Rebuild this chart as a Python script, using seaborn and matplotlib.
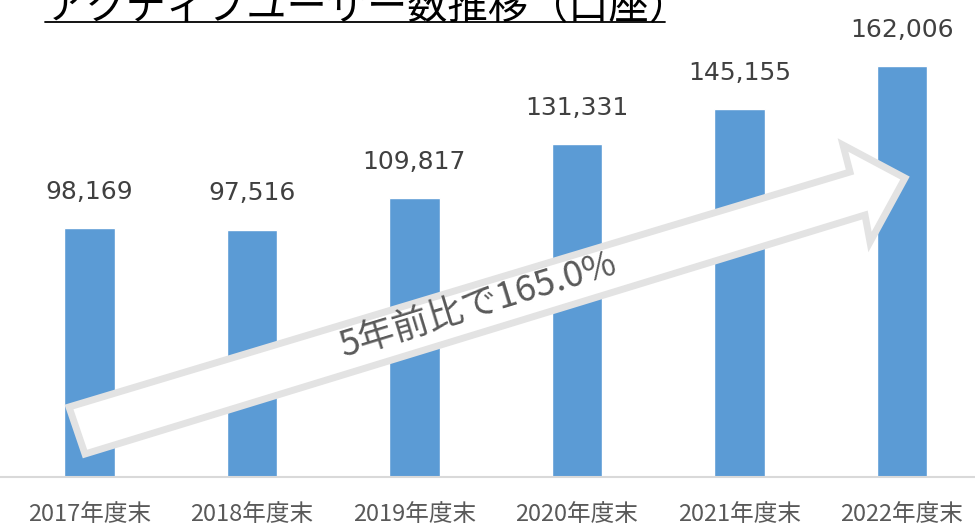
"""
アクティブユーザー数推移（口座）の棒グラフ
"""

import matplotlib
matplotlib.use("Agg")
import matplotlib.pyplot as plt
from matplotlib.patches import Polygon
from matplotlib.lines import Line2D
import seaborn as sns
import pandas as pd

# データ
years = ["2017年度末", "2018年度末", "2019年度末", "2020年度末", "2021年度末", "2022年度末"]
users = [98169, 97516, 109817, 131331, 145155, 162006]
title = "アクティブユーザー数推移（口座）"
arrow_label = "5年前比で165.0%"

sns.set_theme(style="white")
plt.rcParams['font.family'] = ['Noto Sans CJK JP', 'DejaVu Sans']

W, H = 975, 527
fig = plt.figure(figsize=(W / 100, H / 100), dpi=100)
ax = fig.add_axes([0, 1 - 477 / H, 1, 477 / H])

df = pd.DataFrame({"year": years, "users": users})
sns.barplot(data=df, x="year", y="users", color="#5B9BD5", saturation=1,
            width=0.31, ax=ax, zorder=2)

ax.set_xlim(-0.55, 5.45)
ax.set_ylim(0, 188000)
ax.set_xlabel("")
ax.set_ylabel("")
ax.set_yticks([])
for side in ["top", "right", "left"]:
    ax.spines[side].set_visible(False)
ax.spines["bottom"].set_color("#d9d9d9")
ax.spines["bottom"].set_linewidth(1.5)
ax.tick_params(axis="x", length=0, pad=19, labelsize=17, labelcolor="#595959")

# 値ラベル
for i, v in enumerate(users):
    ax.annotate(f"{v:,}", (i, v), xytext=(0, 21), textcoords="offset points",
                ha="center", va="baseline", fontsize=18, color="#404040",
                family="DejaVu Sans")

# 矢印（装飾）
pts = [(69, 407), (850, 172), (843, 145), (905, 178), (870, 242), (865, 215), (85, 454)]
pts = [(x / W, 1 - y / H) for x, y in pts]
arrow = Polygon(pts, closed=True, transform=fig.transFigure, facecolor="white",
                edgecolor="#e3e3e3", linewidth=5, joinstyle="miter", zorder=5)
fig.patches.append(arrow)
fig.text(478 / W, 1 - 305 / H, arrow_label, rotation=17, ha="center", va="center",
         fontsize=26, color="#595959", rotation_mode="anchor", zorder=6)

# タイトル（上端で切れている）
fig.text(45 / W, 1 - 19 / H, title, ha="left", va="baseline", fontsize=29, color="black")
fig.lines.append(Line2D([45 / W, 665 / W], [1 - 22 / H, 1 - 22 / H],
                        transform=fig.transFigure, color="black", linewidth=1.3))

fig.savefig("out.png", dpi=100)
